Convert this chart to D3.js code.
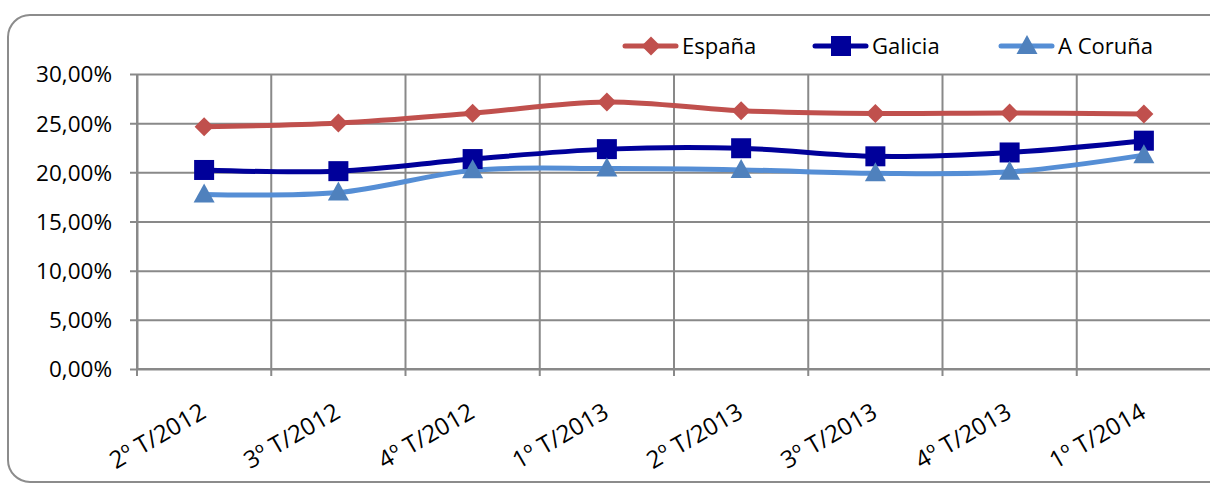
<!DOCTYPE html>
<html><head><meta charset="utf-8">
<script src="https://cdn.jsdelivr.net/npm/d3@7"></script>
<style>body{margin:0;background:#fff}svg{display:block}text{font-family:"Open Sans",sans-serif}</style>
</head><body><svg id="c" width="1210" height="485"></svg>
<script>
const categories = ["2º T/2012","3º T/2012","4º T/2012","1º T/2013","2º T/2013","3º T/2013","4º T/2013","1º T/2014"];
const espana  = [24.63,25.02,26.02,27.16,26.26,25.98,26.03,25.93];
const galicia = [20.24,20.12,21.35,22.36,22.45,21.63,22.02,23.22];
const coruna  = [17.75,17.95,20.20,20.38,20.25,19.90,20.05,21.75];
const seriesNames = ["España","Galicia","A Coruña"];
const yTicks = [0,5,10,15,20,25,30];

const svg = d3.select("#c");
const L=137, R=1211, T=74, B=369;
const x = d3.scaleBand().domain(categories).range([L,R]);
const y = d3.scaleLinear().domain([0,30]).range([B,T]);
const grid="#898989";

svg.append("rect").attr("x",8).attr("y",15).attr("width",1230).attr("height",467)
  .attr("rx",22).attr("fill","none").attr("stroke","#8c8c8c").attr("stroke-width",2);

const yAxis = d3.axisLeft(y).tickValues(yTicks).tickSize(-(R-L)).tickSizeOuter(0)
  .tickFormat(d=>d3.format(".2f")(d).replace(".",",")+"%");
const gy = svg.append("g").attr("transform",`translate(${L},0)`).call(yAxis);
gy.select(".domain").attr("stroke",grid).attr("stroke-width",2);
gy.selectAll(".tick line").attr("stroke",grid).attr("stroke-width",2).attr("x1",-7);
gy.selectAll(".tick text").attr("font-size",22.5).attr("fill","#000").attr("x",-25).attr("dy","0.35em");

const bounds = categories.map(c=>x(c)).concat([R]);
svg.append("g").selectAll("line").data(bounds).join("line")
  .attr("x1",d=>d).attr("x2",d=>d).attr("y1",T).attr("y2",B+7)
  .attr("stroke",grid).attr("stroke-width",2);
svg.append("line").attr("x1",L).attr("x2",R).attr("y1",B).attr("y2",B).attr("stroke",grid).attr("stroke-width",2);

svg.append("g").selectAll("text").data(categories).join("text")
  .attr("transform",d=>`translate(${x(d)+x.bandwidth()/2-5},${B+33}) rotate(-30)`)
  .attr("text-anchor","end").attr("dy","0.7em").attr("font-size",24).attr("fill","#000").text(d=>d);

const line = d3.line().x((d,i)=>x(categories[i])+x.bandwidth()/2).y(d=>y(d)).curve(d3.curveCardinal.tension(0));
const series = [
  {name:seriesNames[0], data:espana, color:"#C0504D", mcolor:"#C0504D", sym:"diamond"},
  {name:seriesNames[1], data:galicia, color:"#00009A", mcolor:"#00009A", sym:"square"},
  {name:seriesNames[2], data:coruna, color:"#558ED5", mcolor:"#4F81BD", sym:"triangle"}
];
function marker(g, sym, color){
  if(sym==="diamond") g.append("path").attr("d","M0,-9.5L9.5,0L0,9.5L-9.5,0Z").attr("fill",color);
  else if(sym==="square") g.append("rect").attr("x",-10).attr("y",-10).attr("width",20).attr("height",20).attr("fill",color);
  else g.append("path").attr("d","M0,-11L10.5,8L-10.5,8Z").attr("fill",color);
}
series.forEach(s=>{
  svg.append("path").attr("d",line(s.data)).attr("fill","none").attr("stroke",s.color).attr("stroke-width",5).attr("stroke-linejoin","round");
});
series.forEach(s=>{
  s.data.forEach((v,i)=>{
    const g=svg.append("g").attr("transform",`translate(${x(categories[i])+x.bandwidth()/2},${y(v)})`);
    marker(g,s.sym,s.mcolor);
  });
});

const legX=[623,813,999];
series.forEach((s,i)=>{
  const g=svg.append("g").attr("transform",`translate(${legX[i]},46)`);
  g.append("line").attr("x1",2).attr("x2",53).attr("stroke",s.color).attr("stroke-width",5).attr("stroke-linecap","round");
  const m=g.append("g").attr("transform","translate(28,0)");
  marker(m,s.sym,s.mcolor);
  g.append("text").attr("x",59).attr("dy","0.35em").attr("font-size",22).attr("fill","#000").text(s.name);
});
</script></body></html>
